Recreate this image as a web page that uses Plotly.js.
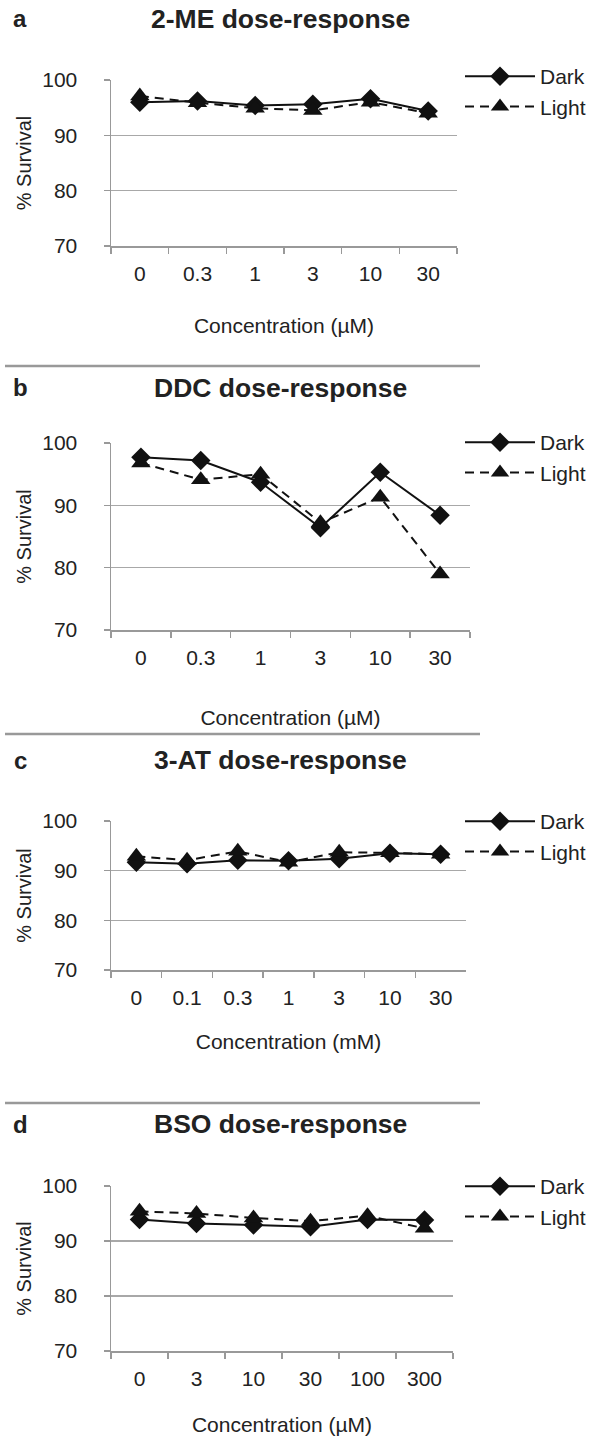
<!DOCTYPE html>
<html><head><meta charset="utf-8">
<script src="https://cdn.plot.ly/plotly-3.0.1.min.js"></script>
<style>html,body{margin:0;padding:0;background:#fff}</style>
</head><body><div id="chart" style="width:600px;height:1441px"></div>
<script>
// ---- data ----
const seriesNames = ['Dark', 'Light'];
const panelLetters = ['a', 'b', 'c', 'd'];
const panelTitles = ['2-ME dose-response', 'DDC dose-response', '3-AT dose-response', 'BSO dose-response'];
const xTitles = ['Concentration (µM)', 'Concentration (µM)', 'Concentration (mM)', 'Concentration (µM)'];
const yTitle = '% Survival';

const catsA = ['0', '0.3', '1', '3', '10', '30'];
const darkA = [96.0, 96.2, 95.4, 95.6, 96.6, 94.4];
const lightA = [97.1, 95.9, 94.9, 94.5, 96.0, 94.0];

const catsB = ['0', '0.3', '1', '3', '10', '30'];
const darkB = [97.7, 97.2, 93.7, 86.4, 95.3, 88.4];
const lightB = [96.8, 94.1, 95.0, 87.2, 91.3, 79.0];

const catsC = ['0', '0.1', '0.3', '1', '3', '10', '30'];
const darkC = [91.7, 91.4, 92.1, 92.0, 92.4, 93.5, 93.3];
const lightC = [92.9, 92.1, 93.9, 91.7, 93.7, 93.6, 93.3];

const catsD = ['0', '3', '10', '30', '100', '300'];
const darkD = [93.9, 93.2, 92.9, 92.6, 93.9, 93.8];
const lightD = [95.4, 95.0, 94.2, 93.6, 94.6, 92.3];

const yTicks = [70, 80, 90, 100];

// ---- layout geometry (pixels) ----
const W = 600, H = 1441;
const geo = [
  {x: [111, 457], y: [80, 246], titleY: 19, legY: 56, xStand: 34, sepY: 366},
  {x: [111, 470], y: [443, 630], titleY: 388, legY: 422, xStand: 42, sepY: 734},
  {x: [111, 466], y: [821, 970], titleY: 760, legY: 801, xStand: 26, sepY: 1103},
  {x: [111, 453], y: [1186, 1351], titleY: 1124, legY: 1166, xStand: 28, sepY: null}
];
const legendX = 460;
const data = [[catsA, darkA, lightA], [catsB, darkB, lightB], [catsC, darkC, lightC], [catsD, darkD, lightD]];

const txt = '#222';
const gridC = '#a8a8a8';
const font = {family: 'Liberation Sans, Arial, sans-serif', color: txt};

const traces = [];
const layout = {
  width: W, height: H,
  margin: {l: 0, r: 0, t: 0, b: 0},
  paper_bgcolor: '#fff', plot_bgcolor: '#fff',
  font: font,
  showlegend: true,
  annotations: [], shapes: []
};

data.forEach((d, i) => {
  const sfx = i === 0 ? '' : String(i + 1);
  const g = geo[i];
  const [cats, dark, light] = d;
  traces.push({
    type: 'scatter', mode: 'lines+markers', name: seriesNames[0],
    x: cats, y: dark, xaxis: 'x' + sfx, yaxis: 'y' + sfx, legend: 'legend' + sfx,
    line: {color: '#111', width: 2},
    marker: {symbol: 'diamond', size: 15, color: '#111'}
  });
  traces.push({
    type: 'scatter', mode: 'lines+markers', name: seriesNames[1],
    x: cats, y: light, xaxis: 'x' + sfx, yaxis: 'y' + sfx, legend: 'legend' + sfx,
    line: {color: '#111', width: 2, dash: '9px,6px'},
    marker: {symbol: 'triangle-up', size: 17, color: '#111'}
  });
  layout['xaxis' + sfx] = {
    domain: [g.x[0] / W, g.x[1] / W], anchor: 'y' + sfx,
    type: 'category', range: [-0.5, cats.length - 0.5],
    tickson: 'boundaries', ticks: 'outside', ticklen: 6, tickwidth: 1.5, tickcolor: '#999',
    showgrid: false, showline: true, linecolor: '#999', linewidth: 1.5, zeroline: false,
    tickfont: {size: 21, color: txt}, ticklabelstandoff: 8,
    title: {text: xTitles[i], font: {size: 21, color: txt}, standoff: g.xStand},
    fixedrange: true
  };
  layout['yaxis' + sfx] = {
    domain: [1 - g.y[1] / H, 1 - g.y[0] / H], anchor: 'x' + sfx,
    range: [70, 100], tickvals: yTicks, ticktext: yTicks.map(String),
    ticks: 'outside', ticklen: 6, tickwidth: 1.5, tickcolor: '#999',
    showgrid: true, gridcolor: gridC, gridwidth: 1.5,
    showline: true, linecolor: '#999', linewidth: 1.5, zeroline: false,
    tickfont: {size: 21, color: txt}, ticklabelstandoff: 22,
    title: {text: yTitle, font: {size: 20, color: txt}, standoff: 5},
    fixedrange: true
  };
  layout['legend' + sfx] = {
    x: legendX / W, xanchor: 'left', y: 1 - g.legY / H, yanchor: 'top',
    font: {size: 21, color: txt}, bgcolor: 'rgba(0,0,0,0)',
    itemwidth: 70, tracegroupgap: 0
  };
  layout.annotations.push({
    xref: 'paper', yref: 'paper', x: 20 / W, y: 1 - g.titleY / H, xanchor: 'center', yanchor: 'middle',
    text: panelLetters[i], showarrow: false, font: {size: 24, color: txt, weight: 'bold'}
  });
  layout.annotations.push({
    xref: 'paper', yref: 'paper', x: 280 / W, y: 1 - g.titleY / H, xanchor: 'center', yanchor: 'middle',
    text: panelTitles[i], showarrow: false, font: {size: 26.5, color: txt, weight: 'bold'}
  });
  if (g.sepY) {
    layout.shapes.push({
      type: 'line', xref: 'paper', yref: 'paper', x0: 5 / W, x1: 480 / W,
      y0: 1 - g.sepY / H, y1: 1 - g.sepY / H, line: {color: '#999', width: 2.5}
    });
  }
});

Plotly.newPlot('chart', traces, layout, {displayModeBar: false, staticPlot: true});
</script></body></html>
